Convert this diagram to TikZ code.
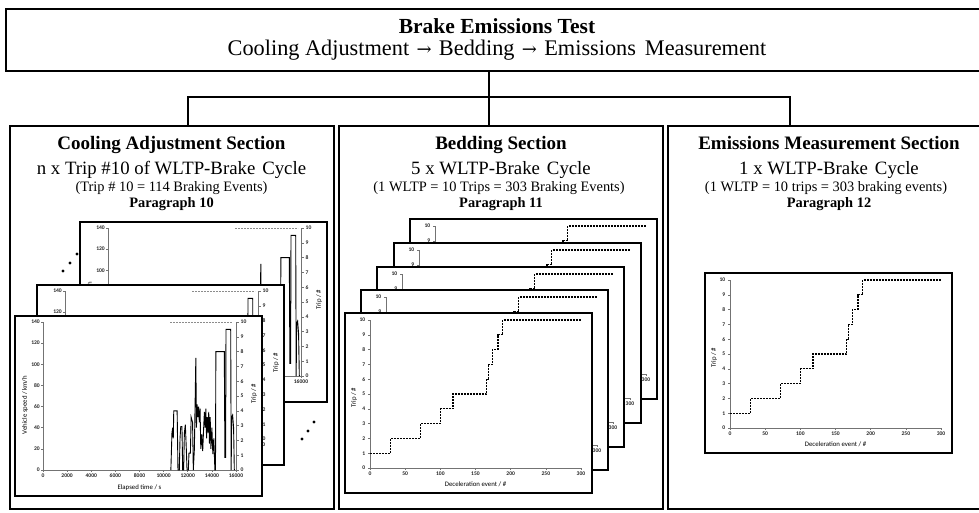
\documentclass[tikz,border=0pt]{standalone}
\usepackage{fontspec}
\setmainfont{Liberation Serif}
\newfontfamily\chartfont{Carlito}
\newfontfamily\arrowfont{DejaVu Serif}
\newcommand\fsz[1]{\fontsize{#1}{#1}\selectfont}
\newcommand\tarrow{\hspace{0.33em}{\arrowfont\fontsize{18}{18}\selectfont →}\hspace{0.33em}}

\tikzset{
  frame/.style={draw=black, line width=1.8pt, inner sep=0pt},
  secbox/.style={frame, minimum height=383pt},
  conn/.style={line width=1.8pt},
  chartframe/.style={draw=black, line width=1.4pt, fill=white},
  chartaxis/.style={draw=black!55, line width=0.55pt},
  ticklbl/.style={font=\chartfont\bfseries\fsz{5.6}, inner sep=0.5pt, text=black!85},
  axtitle/.style={font=\chartfont\fsz{6.8}, inner sep=0pt, text=black},
  speedline/.style={line width=0.9pt, draw=black, line join=miter},
  tripline/.style={line width=1.1pt, draw=black, dash pattern=on 2pt off 1pt},
  tripgrey/.style={line width=0.9pt, draw=black!45, dash pattern=on 2pt off 1pt},
  dotmark/.style={circle, fill=black, inner sep=0pt, minimum size=3.2pt},
  ttlA/.style={font=\bfseries\fsz{19}, anchor=base, inner sep=0pt},
  ttlB/.style={font=\fsz{18.8}, anchor=base, inner sep=0pt},
  ttlC/.style={font=\fsz{14.4}, anchor=base, inner sep=0pt},
  ttlD/.style={font=\bfseries\fsz{14.4}, anchor=base, inner sep=0pt}
}

% cooling-adjustment chart (speed + trip vs elapsed time), frame top-left at (#1,#2)
\newcommand\coolchart[2]{%
\begin{scope}[shift={(#1,#2)}]
  \path[chartframe] (0,0) rectangle (247,180);
  \begin{scope}[shift={(28,154)}, x=12.0625pt, y=1.0571pt]
    \draw[chartaxis] (0,140) -- (0,0) -- (16,0);
    \foreach \v in {0,20,...,140} {
      \draw[chartaxis] (0,\v) -- ++(-2.5pt,0pt);
      \node[ticklbl, anchor=east] at ([xshift=-2.5pt]0,\v) {\v};
    }
    \foreach \t in {0,2,...,16} {
      \draw[chartaxis] (\t,0) -- ++(0pt,-2pt);
      \node[ticklbl, anchor=north] at ([yshift=-3pt]\t,0) {\number\numexpr\t*1000\relax};
    }
    \draw[speedline] plot coordinates {
      (10.6,0) (10.69,35) (10.75,40) (10.8,30) (10.84,56) (11.12,56) (11.19,0)
      (11.3,0) (11.36,30) (11.42,41) (11.52,41) (11.58,0)
      (11.66,0) (11.72,35) (11.8,43) (11.88,20) (11.94,0)
      (12.05,0) (12.1,16) (12.22,16) (12.28,50) (12.4,45) (12.46,0) (12.55,20)
      (12.67,106) (12.72,40) (12.78,62) (12.84,50) (12.9,60) (12.96,45) (13.02,58)
      (13.08,20) (13.16,34) (13.24,18) (13.3,35) (13.38,55) (13.44,40) (13.5,58)
      (13.56,30) (13.62,50) (13.68,35) (13.74,55) (13.8,25) (13.86,50) (13.92,20)
      (14.0,40) (14.08,15) (14.16,30) (14.25,0)
      (14.3,0) (14.33,112) (15.03,112) (15.08,12) (15.14,12) (15.17,133) (15.56,133)
      (15.6,0) (15.64,50) (15.72,52) (15.8,40) (15.86,0)};
  \end{scope}
  \begin{scope}[shift={(221,154)}, y=14.8pt]
    \draw[chartaxis] (0,0) -- (0,10);
    \foreach \n in {0,...,10} {
      \draw[chartaxis] (0,\n) -- ++(2.5pt,0pt);
      \node[ticklbl, anchor=west] at ([xshift=4pt]0,\n) {\n};
    }
    \draw[tripgrey] ([xshift=-66pt]0,10) -- ([xshift=-3pt]0,10);
  \end{scope}
  \node[axtitle] at (124.5,172) {Elapsed time / s};
  \node[axtitle, rotate=90] at (10,89) {Vehicle speed / km/h};
  \node[axtitle, rotate=90] at (239,78) {Trip / \#};
\end{scope}}

% trip vs deceleration event chart, frame top-left at (#1,#2)
\newcommand\bedchart[2]{%
\begin{scope}[shift={(#1,#2)}]
  \path[chartframe] (0,0) rectangle (247,180);
  \begin{scope}[shift={(25,155)}, x=0.70333pt, y=14.8pt]
    \draw[chartaxis] (0,10) -- (0,0) -- (300,0);
    \foreach \n in {0,...,10} {
      \draw[chartaxis] (0,\n) -- ++(-2.5pt,0pt);
      \node[ticklbl, anchor=east] at ([xshift=-4pt]0,\n) {\n};
    }
    \foreach \e in {0,50,...,300} {
      \draw[chartaxis] (\e,0) -- ++(0pt,-2pt);
      \node[ticklbl, anchor=north] at ([yshift=-3.5pt]\e,0) {\e};
    }
    \draw[tripline] (0,1) -- (29,1) -- (29,2) -- (72,2) -- (72,3) -- (100,3)
      -- (100,4) -- (118,4) -- (118,5) -- (166,5) -- (166,6) -- (168,6) -- (168,7)
      -- (174,7) -- (174,8) -- (182,8) -- (182,9) -- (189,9) -- (189,10) -- (300,10);
  \end{scope}
  \node[axtitle] at (130.5,171) {Deceleration event / \#};
  \node[axtitle, rotate=90] at (9,85) {Trip / \#};
\end{scope}}

\begin{document}
\begin{tikzpicture}[x=1pt, y=-1pt]
  \useasboundingbox (0,0) rectangle (979,512);
  \clip (0,0) rectangle (979,512);
  \fill[white] (0,0) rectangle (979,512);

  % top box
  \node[frame, minimum width=990pt, minimum height=62pt, anchor=north west] (top) at (5,8) {};
  \node[font=\bfseries\fsz{21.5}, anchor=base, inner sep=0pt] (t1) at (497,33.5) {Brake Emissions Test};
  \node[font=\fsz{22.3}, anchor=base, inner sep=0pt] (t2) at (497,55.5)
    {Cooling Adjustment\tarrow Bedding\tarrow Emissions\hspace{0.15em} Measurement};

  % section boxes
  \node[secbox, minimum width=324pt] (cool) at (172,317.5) {};
  \node[secbox, minimum width=324pt] (bed) at (501,317.5) {};
  \node[secbox, minimum width=330pt] (emis) at (833,317.5) {};

  % connectors
  \coordinate (split) at (489,97);
  \coordinate (c1) at (188,97);
  \coordinate (c3) at (790,97);
  \draw[conn] (top.south -| split) -- (split);
  \draw[conn, line cap=rect] (c1) -- (c3);
  \draw[conn] (c1) -- (c1 |- cool.north);
  \draw[conn] (split) -- (split |- bed.north);
  \draw[conn] (c3) -- (c3 |- emis.north);

  % section titles
  \node[ttlA] (ca1) at (171.5,149) {Cooling Adjustment Section};
  \node[ttlB] (ca2) at (171.5,174) {n x Trip \#10 of WLTP-Brake\hspace{0.12em} Cycle};
  \node[ttlC] (ca3) at (171.5,191) {(Trip \# 10 = 114 Braking Events)};
  \node[ttlD] (ca4) at (171.5,207) {Paragraph 10};

  \node[ttlA] (bd1) at (501,149) {Bedding Section};
  \node[ttlB] (bd2) at (501,174) {5 x WLTP-Brake\hspace{0.12em} Cycle};
  \node[ttlC] (bd3) at (499,191) {(1 WLTP = 10 Trips = 303 Braking Events)};
  \node[ttlD] (bd4) at (501,207) {Paragraph 11};

  \node[ttlA] (em1) at (829,149) {Emissions Measurement Section};
  \node[ttlB] (em2) at (829,174) {1 x WLTP-Brake\hspace{0.12em} Cycle};
  \node[ttlC] (em3) at (826,191) {(1 WLTP = 10 trips = 303 braking events)};
  \node[ttlD] (em4) at (829,207) {Paragraph 12};

  % cooling charts (back to front)
  \coolchart{80}{222}
  \coolchart{37}{285}
  \coolchart{15}{316}
  \node[dotmark] (d1) at (63,271) {};
  \node[dotmark] (d2) at (70,263) {};
  \node[dotmark] (d3) at (77,254) {};
  \node[dotmark] (d4) at (302,439) {};
  \node[dotmark] (d5) at (308,431) {};
  \node[dotmark] (d6) at (314,422) {};

  % bedding charts (back to front)
  \bedchart{410}{219}
  \bedchart{394}{243}
  \bedchart{377}{267}
  \bedchart{361}{290}
  \bedchart{345}{313}

  % emissions chart
  \bedchart{705}{273}
\end{tikzpicture}
\end{document}
